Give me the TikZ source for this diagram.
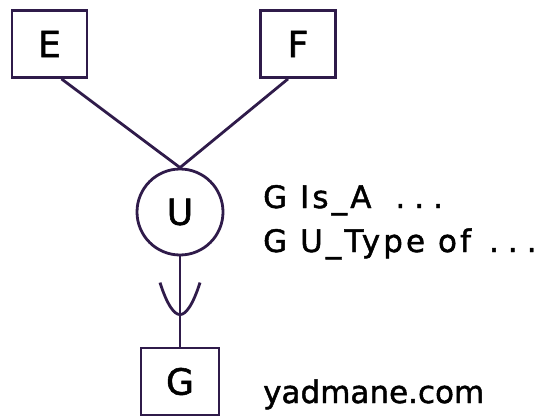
\documentclass[tikz,border=0pt]{standalone}
\usepackage{fontspec}
\setmainfont{DejaVu Sans}[LetterSpace=10,FakeBold=1.5]
\newfontfamily\sitefont{DejaVu Sans}[FakeBold=1.5]
\usetikzlibrary{positioning,calc}
\definecolor{linkpurple}{HTML}{2F1B4A}
\newcommand{\spdots}{.\hspace{9pt}.\hspace{9pt}.}
\tikzset{
  entbox/.style ={draw=linkpurple,line width=2.8pt,minimum width=75pt,
                  minimum height=67pt,inner sep=0pt,font=\fontsize{36}{40}\selectfont},
  opcirc/.style ={draw=linkpurple,circle,line width=2.8pt,minimum size=86pt,
                  inner sep=0pt,font=\fontsize{36}{40}\selectfont},
  link/.style   ={draw=linkpurple,line width=2.8pt},
  note/.style   ={anchor=base west,inner sep=0pt,font=\fontsize{31}{36}\selectfont},
}
\begin{document}
\begin{tikzpicture}[x=1pt,y=-1pt]
\useasboundingbox (0,0) rectangle (548,417);

\node[entbox] (E) at (49.5,44) {E};
\node[entbox] (F) at (298,44) {F};
\node[opcirc] (U) at (180,212) {U};
\node[entbox,minimum width=78pt] (G) at (180,381.5) {G};

% union links
\draw[link] ([xshift=12pt]E.south) -- (U.north);
\draw[link] ([xshift=-10pt]F.south) -- (U.north);

% subset link with cup
\draw[link] (U.south) -- coordinate[pos=0.645] (cup) (G.north);
\draw[link] ($(cup)+(-20,-32)$) .. controls ($(cup)+(-13,-10)$) and ($(cup)+(-6,0)$) .. (cup)
  .. controls ($(cup)+(6,0)$) and ($(cup)+(13,-10)$) .. ($(cup)+(20,-32)$);

\node[note] (isa) at (263,208) {G Is\_A\hspace{24pt}\spdots};
\node[note] (utype) at (263,252) {G U\_Type of\hspace{18pt}\spdots};
\node[note,font=\fontsize{31}{36}\sitefont] (site) at (263,403) {yadmane.com};

\end{tikzpicture}
\end{document}
